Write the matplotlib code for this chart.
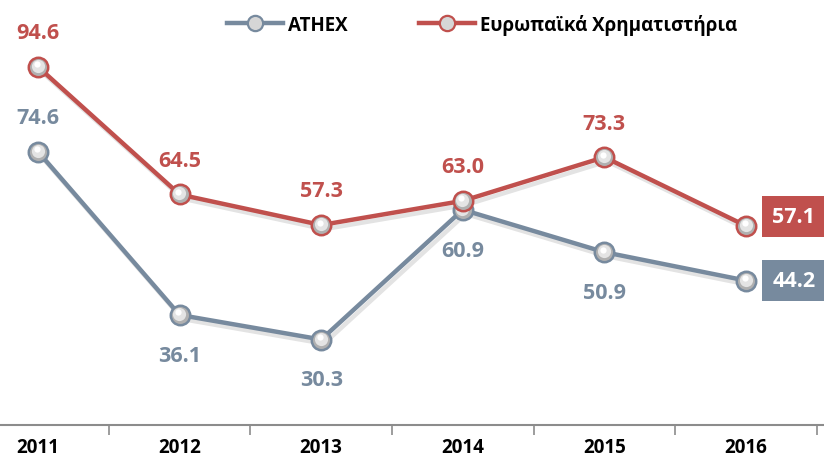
import matplotlib
matplotlib.use("Agg")
import matplotlib.pyplot as plt
from matplotlib.lines import Line2D
import matplotlib.patheffects as pe
import matplotlib.transforms as mtrans

plt.rcParams['font.family'] = ['Open Sans', 'DejaVu Sans']

years = ["2011", "2012", "2013", "2014", "2015", "2016"]
athex = [74.6, 36.1, 30.3, 60.9, 50.9, 44.2]
europe = [94.6, 64.5, 57.3, 63.0, 73.3, 57.1]
series_names = ["ATHEX", "Ευρωπαϊκά Χρηματιστήρια"]

RED = "#c0504d"
GRAY = "#778a9e"

fig = plt.figure(figsize=(8.24, 4.64), dpi=100)
ax = fig.add_axes([0, 38/464, 1, 426/464])
x = list(range(len(years)))

shadow = [pe.SimpleLineShadow(offset=(2, -3), shadow_color='gray', alpha=0.22), pe.Normal()]

def draw(vals, color, z):
    ax.plot(x, vals, color=color, lw=3.2, zorder=z, solid_capstyle='round',
            path_effects=shadow)
    ax.plot(x, vals, ls='none', marker='o', ms=14, mfc='#b0b0b0', mec=color,
            mew=1.8, zorder=z + 0.1)
    hl = ax.transData + mtrans.ScaledTranslation(-0.5/100, 1/100, fig.dpi_scale_trans)
    ax.plot(x, vals, ls='none', marker='o', ms=9.5, mfc='#e4e4e4', mec='none',
            zorder=z + 0.2, transform=hl)
    hl2 = ax.transData + mtrans.ScaledTranslation(-1.5/100, 2.5/100, fig.dpi_scale_trans)
    ax.plot(x, vals, ls='none', marker='o', ms=4.5, mfc='white', mec='none',
            zorder=z + 0.3, transform=hl2)

draw(athex, GRAY, 3)
draw(europe, RED, 4)

ax.set_xlim(-38/141.6, 5 + 78/141.6)
ax.set_ylim(10.14, 110.6)

fs = 15.5
for i, v in enumerate(europe[:-1]):
    ax.annotate(f"{v:.1f}", (i, v), xytext=(0, 24.5), textcoords='offset points',
                ha='center', va='center', color=RED, fontsize=fs, fontweight='bold')
for i, v in enumerate(athex[:-1]):
    off = 24.5 if i == 0 else -29
    ax.annotate(f"{v:.1f}", (i, v), xytext=(0, off), textcoords='offset points',
                ha='center', va='center', color=GRAY, fontsize=fs, fontweight='bold')
ax.annotate(f"{europe[-1]:.1f}", (5, europe[-1]), xytext=(34.5, 7), textcoords='offset points',
            ha='center', va='center', color='white', fontsize=fs, fontweight='bold',
            bbox=dict(boxstyle='square,pad=0.47', fc=RED, ec='none'))
ax.annotate(f"{athex[-1]:.1f}", (5, athex[-1]), xytext=(34.5, 0), textcoords='offset points',
            ha='center', va='center', color='white', fontsize=fs, fontweight='bold',
            bbox=dict(boxstyle='square,pad=0.47', fc=GRAY, ec='none'))

for s in ['top', 'right', 'left']:
    ax.spines[s].set_visible(False)
ax.spines['bottom'].set_color('#8c8c8c')
ax.spines['bottom'].set_linewidth(1.5)
ax.set_yticks([])
ax.set_xticks(x)
ax.set_xticklabels(years, fontsize=13.5, fontweight='bold')
ax.tick_params(axis='x', length=0, pad=8.5)
ax.set_xticks([i + 0.5 for i in range(len(years))], minor=True)
ax.tick_params(axis='x', which='minor', length=7, color='#8c8c8c', width=1.2, direction='out')

handles = [
    Line2D([0], [0], color=GRAY, lw=3.2, marker='o', ms=11, mfc='#d6d6d6', mec=GRAY, mew=1.6),
    Line2D([0], [0], color=RED, lw=3.2, marker='o', ms=11, mfc='#d6d6d6', mec=RED, mew=1.6),
]
fig.legend(handles, series_names, loc='center', bbox_to_anchor=(0.585, 0.946), ncol=2,
           frameon=False, prop=dict(size=13.5, weight='bold'), handlelength=3.0,
           handletextpad=0.25, columnspacing=3.8)

fig.savefig("out.png", dpi=100)
